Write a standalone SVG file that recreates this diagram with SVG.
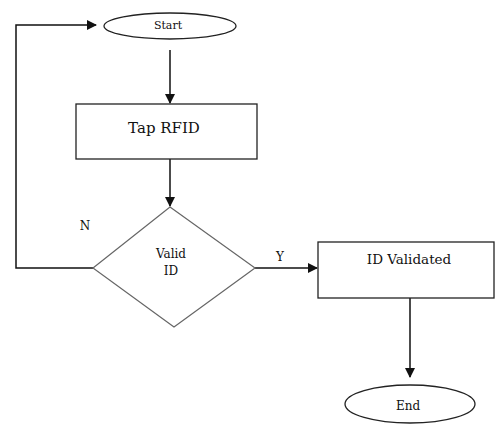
<svg xmlns="http://www.w3.org/2000/svg" width="496" height="426" viewBox="0 0 496 426">
<style>
.s{fill:#fff;stroke:#222;stroke-width:1.3}
.d{fill:#fff;stroke:#666;stroke-width:1.2}
.c{fill:none;stroke:#111;stroke-width:1.5}
text{font-family:"DejaVu Serif","Liberation Serif",serif;fill:#111;text-anchor:middle}
.sm{font-size:11px}
.md{font-size:13.5px}
.lg{font-size:15px}
.v{font-size:12px}
</style>
<defs>
<marker id="ah" markerWidth="10" markerHeight="10" refX="9" refY="5" orient="auto" markerUnits="userSpaceOnUse" viewBox="0 0 10 10">
<path d="M0,0 L10,5 L0,10 z" fill="#111"/>
</marker>
</defs>
<rect width="496" height="426" fill="#fff"/>
<g id="connectors">
<path class="c" d="M93,268 L16,268 L16,25 L96,25" marker-end="url(#ah)"/>
<path class="c" d="M170,50 L170,103" marker-end="url(#ah)"/>
<path class="c" d="M170,159 L170,206" marker-end="url(#ah)"/>
<path class="c" d="M255,268 L317,268" marker-end="url(#ah)"/>
<path class="c" d="M410,298 L410,377" marker-end="url(#ah)"/>
</g>
<g id="start">
<ellipse class="s" cx="170" cy="26" rx="66" ry="13"/>
<text class="sm" x="168" y="29">Start</text>
</g>
<g id="tap">
<rect class="s" x="76" y="104" width="181" height="55"/>
<text class="lg" x="164" y="133">Tap RFID</text>
</g>
<g id="valid">
<polygon class="d" points="170,207 255,268 174,327 93,268"/>
<text class="v" x="171" y="258">Valid</text>
<text class="v" x="171" y="275">ID</text>
</g>
<g id="validated">
<rect class="s" x="318" y="242" width="176" height="56"/>
<text class="md" x="409" y="264">ID Validated</text>
</g>
<g id="end">
<ellipse class="s" cx="410" cy="404" rx="65" ry="19"/>
<text class="v" x="408" y="410">End</text>
</g>
<text class="v" x="85" y="230">N</text>
<text class="v" x="280" y="261">Y</text>
</svg>
